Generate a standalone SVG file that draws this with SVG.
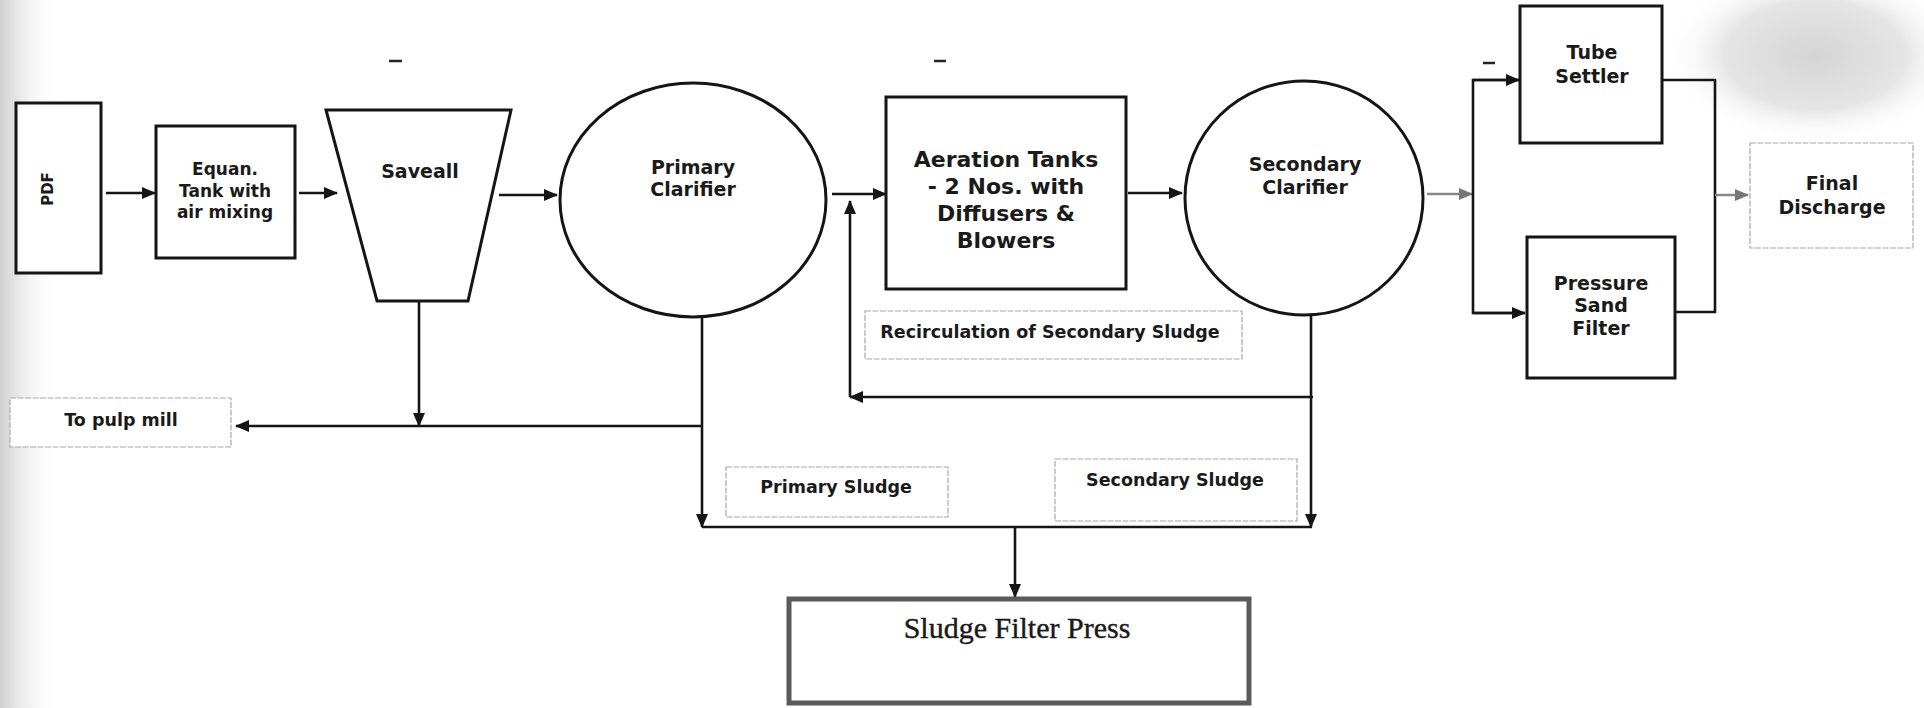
<svg xmlns="http://www.w3.org/2000/svg" width="1924" height="708" viewBox="0 0 1924 708">
  <defs>
    <style>
      .box { fill: #fff; stroke: #151515; stroke-width: 3; }
      .lbl { fill: #fff; stroke: #a8a8a8; stroke-width: 1.2; stroke-dasharray: 6 1.5; }
      .t { font-family: "DejaVu Sans", Verdana, sans-serif; font-weight: bold; fill: #1a1a1a; text-anchor: middle; }
      .s17 { font-size: 17px; }
      .s19 { font-size: 19px; }
      .s22 { font-size: 22px; }
      .s16 { font-size: 17.5px; }
      .serif { font-family: "Liberation Serif", "Times New Roman", serif; font-size: 30px; fill: #1a1a1a; stroke: #1a1a1a; stroke-width: 0.4; text-anchor: middle; }
      .c { fill: none; stroke: #151515; stroke-width: 2.6; }
      .cg { fill: none; stroke: #888; stroke-width: 2.4; }
      .mk { stroke: #222; stroke-width: 2.5; }
    </style>
    <marker id="ah" viewBox="0 0 14 12" markerUnits="userSpaceOnUse" markerWidth="14" markerHeight="12" refX="13" refY="6" orient="auto">
      <path d="M0,0 L14,6 L0,12 z" fill="#151515"/>
    </marker>
    <marker id="ahg" viewBox="0 0 14 12" markerUnits="userSpaceOnUse" markerWidth="14" markerHeight="12" refX="13" refY="6" orient="auto">
      <path d="M0,0 L14,6 L0,12 z" fill="#777"/>
    </marker>
    <linearGradient id="leftnoise" x1="0" y1="0" x2="1" y2="0">
      <stop offset="0" stop-color="#cfcfcf"/>
      <stop offset="1" stop-color="#ffffff" stop-opacity="0"/>
    </linearGradient>
    <radialGradient id="trnoise" cx="0.5" cy="0.5" r="0.5">
      <stop offset="0" stop-color="#d4d4d4"/>
      <stop offset="0.6" stop-color="#e0e0e0" stop-opacity="0.85"/>
      <stop offset="1" stop-color="#ffffff" stop-opacity="0"/>
    </radialGradient>
  </defs>

  <rect x="0" y="0" width="1924" height="708" fill="#fff"/>
  <rect x="0" y="0" width="60" height="708" fill="url(#leftnoise)"/>
  <ellipse cx="1815" cy="55" rx="150" ry="90" fill="url(#trnoise)"/>

  <g id="marks">
    <line class="mk" x1="389" y1="61" x2="402" y2="61"/>
    <line class="mk" x1="934" y1="61" x2="946" y2="61"/>
    <line class="mk" x1="1483" y1="63" x2="1495" y2="63"/>
  </g>

  <g id="connectors">
    <line class="c" x1="106" y1="193" x2="155" y2="193" marker-end="url(#ah)"/>
    <line class="c" x1="299" y1="193" x2="337" y2="193" marker-end="url(#ah)"/>
    <line class="c" x1="499" y1="195" x2="557" y2="195" marker-end="url(#ah)"/>
    <line class="c" x1="832" y1="194" x2="886" y2="194" marker-end="url(#ah)"/>
    <line class="c" x1="1128" y1="193" x2="1182" y2="193" marker-end="url(#ah)"/>
    <line class="cg" x1="1427" y1="194" x2="1472" y2="194" marker-end="url(#ahg)"/>
    <polyline class="c" points="1519,80 1473,80 1473,313 1525,313"/>
    <line class="c" x1="1473" y1="80" x2="1519" y2="80" marker-end="url(#ah)"/>
    <line class="c" x1="1473" y1="313" x2="1525" y2="313" marker-end="url(#ah)"/>
    <polyline class="c" points="1660,80 1715,80 1715,312 1674,312"/>
    <line class="cg" x1="1715" y1="195" x2="1748" y2="195" stroke="#555" marker-end="url(#ahg)"/>
    <line class="c" x1="419" y1="301" x2="419" y2="426" marker-end="url(#ah)"/>
    <line class="c" x1="702" y1="426" x2="236" y2="426" marker-end="url(#ah)"/>
    <line class="c" x1="702" y1="317" x2="702" y2="527" marker-end="url(#ah)"/>
    <line class="c" x1="702" y1="527" x2="1312" y2="527"/>
    <line class="c" x1="1311" y1="315" x2="1311" y2="527" marker-end="url(#ah)"/>
    <line class="c" x1="1313" y1="397" x2="850" y2="397" marker-end="url(#ah)"/>
    <line class="c" x1="850" y1="397" x2="850" y2="201" marker-end="url(#ah)"/>
    <line class="c" x1="1015" y1="527" x2="1015" y2="597" marker-end="url(#ah)"/>
  </g>

  <g id="pdf">
    <rect class="box" x="16" y="103" width="85" height="170"/>
    <text class="t" font-size="15" transform="translate(53,189) rotate(-90)">PDF</text>
  </g>
  <g id="equan">
    <rect class="box" x="156" y="126" width="139" height="132"/>
    <text class="t s17" x="225" y="175">Equan.</text>
    <text class="t s17" x="225" y="197">Tank with</text>
    <text class="t s17" x="225" y="218">air mixing</text>
  </g>
  <g id="saveall">
    <polygon class="box" points="326,110 511,110 468,301 377,301"/>
    <text class="t s19" x="420" y="178">Saveall</text>
  </g>
  <g id="primary-clarifier">
    <ellipse class="box" cx="693" cy="200" rx="133" ry="117"/>
    <text class="t s19" x="693" y="174">Primary</text>
    <text class="t s19" x="693" y="196">Clarifier</text>
  </g>
  <g id="aeration">
    <rect class="box" x="886" y="97" width="240" height="192"/>
    <text class="t s22" x="1006" y="167">Aeration Tanks</text>
    <text class="t s22" x="1006" y="194">- 2 Nos. with</text>
    <text class="t s22" x="1006" y="221">Diffusers &amp;</text>
    <text class="t s22" x="1006" y="248">Blowers</text>
  </g>
  <g id="secondary-clarifier">
    <ellipse class="box" cx="1304" cy="198" rx="119" ry="117"/>
    <text class="t s19" x="1305" y="171">Secondary</text>
    <text class="t s19" x="1305" y="194">Clarifier</text>
  </g>
  <g id="tube-settler">
    <rect class="box" x="1520" y="6" width="142" height="137"/>
    <text class="t s19" x="1592" y="59">Tube</text>
    <text class="t s19" x="1592" y="83">Settler</text>
  </g>
  <g id="pressure-sand-filter">
    <rect class="box" x="1527" y="237" width="148" height="141"/>
    <text class="t s19" x="1601" y="290">Pressure</text>
    <text class="t s19" x="1601" y="312">Sand</text>
    <text class="t s19" x="1601" y="335">Filter</text>
  </g>
  <g id="final-discharge">
    <rect class="lbl" x="1750" y="143" width="163" height="105"/>
    <text class="t s19" x="1832" y="190">Final</text>
    <text class="t s19" x="1832" y="214">Discharge</text>
  </g>
  <g id="to-pulp-mill">
    <rect class="lbl" x="10" y="398" width="221" height="49"/>
    <text class="t s16" x="121" y="426">To pulp mill</text>
  </g>
  <g id="recirculation">
    <rect class="lbl" x="865" y="311" width="377" height="48"/>
    <text class="t s16" x="1050" y="338" font-size="18">Recirculation of Secondary Sludge</text>
  </g>
  <g id="primary-sludge">
    <rect class="lbl" x="726" y="467" width="222" height="50"/>
    <text class="t s16" x="836" y="493">Primary Sludge</text>
  </g>
  <g id="secondary-sludge">
    <rect class="lbl" x="1055" y="459" width="242" height="62"/>
    <text class="t s16" x="1175" y="486">Secondary Sludge</text>
  </g>
  <g id="sludge-filter-press">
    <rect x="789" y="599" width="460" height="104" fill="#fff" stroke="#5a5a5a" stroke-width="5"/>
    <text class="serif" x="1017" y="638">Sludge Filter Press</text>
  </g>
</svg>
